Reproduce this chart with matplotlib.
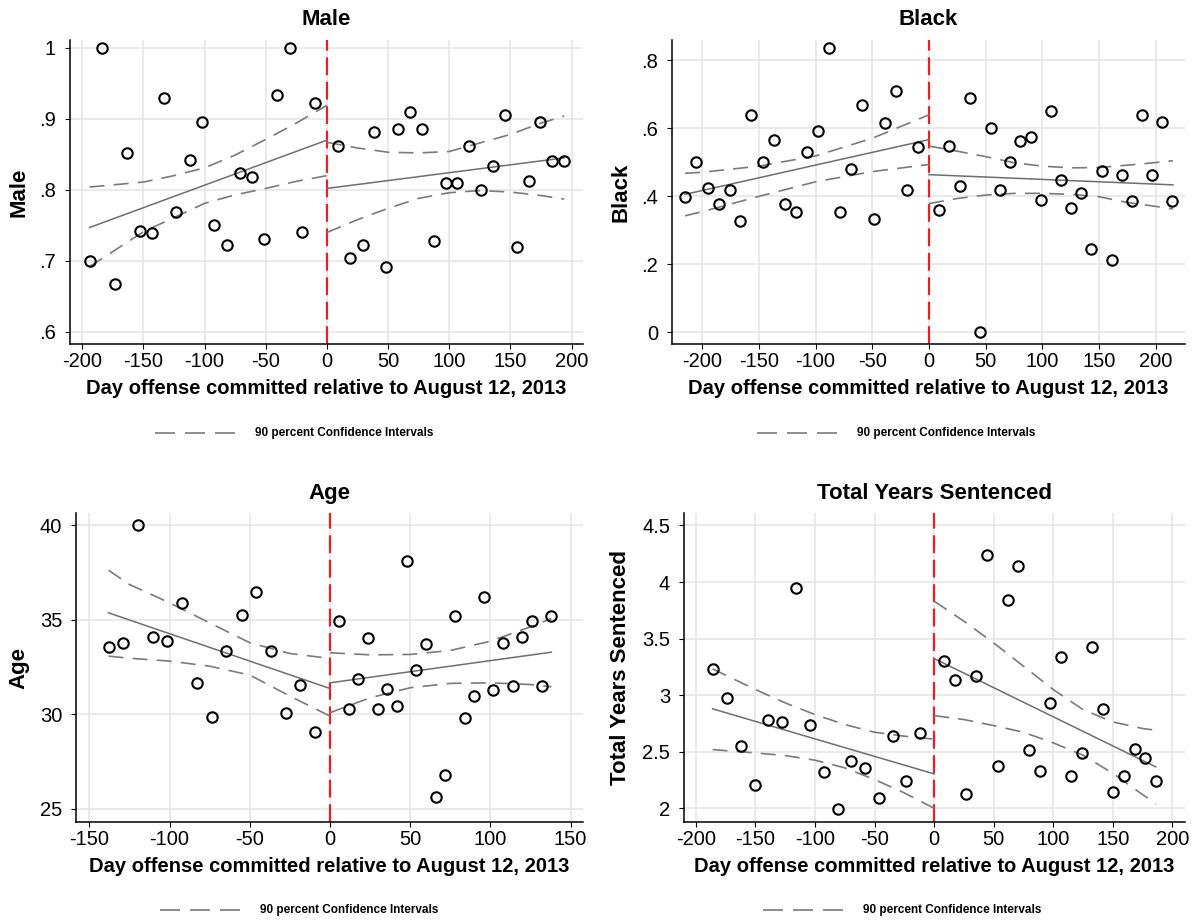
import matplotlib

matplotlib.use("Agg")
import matplotlib.pyplot as plt  # noqa: E402
from matplotlib.lines import Line2D  # noqa: E402

plt.rcParams["font.family"] = ["Liberation Sans", "DejaVu Sans"]
plt.rcParams["axes.unicode_minus"] = False

W, H = 1196, 922  # canvas in pixels (dpi 100)

XLABEL = "Day offense committed relative to August 12, 2013"
CI_LABEL = "90 percent Confidence Intervals"

# ---- Male -------------------------------------------------------------
male_x_pre = [-194, -184, -173.5, -163, -153, -143, -133, -123, -112, -102,
              -92, -82, -71, -61, -51, -41, -30, -20, -10]
male_y_pre = [0.700, 1.000, 0.667, 0.852, 0.742, 0.739, 0.929, 0.769, 0.842, 0.895,
              0.750, 0.722, 0.824, 0.818, 0.731, 0.933, 1.000, 0.741, 0.923]
male_x_post = [9.5, 19.3, 29.2, 38.9, 48.5, 58.3, 68.2, 77.9, 87.2, 97.0,
               106.7, 116.3, 126.0, 135.8, 145.5, 155.1, 164.9, 174.6, 184.0, 193.5]
male_y_post = [0.862, 0.704, 0.722, 0.882, 0.692, 0.885, 0.909, 0.885, 0.728, 0.809,
               0.809, 0.862, 0.800, 0.833, 0.906, 0.720, 0.812, 0.895, 0.841, 0.840]
male_fit_pre = ([-194, 0], [0.747, 0.870])
male_fit_post = ([0, 194], [0.802, 0.845])
male_ci_x_pre = [-194, -150, -125, -100, -75, -50, -25, 0]
male_ci_hi_pre = [0.804, 0.811, 0.820, 0.831, 0.849, 0.871, 0.894, 0.919]
male_ci_lo_pre = [0.692, 0.741, 0.761, 0.781, 0.793, 0.802, 0.812, 0.820]
male_ci_x_post = [0, 25, 50, 75, 100, 125, 150, 175, 194]
male_ci_hi_post = [0.867, 0.859, 0.853, 0.852, 0.854, 0.866, 0.878, 0.894, 0.904]
male_ci_lo_post = [0.740, 0.758, 0.774, 0.788, 0.796, 0.799, 0.797, 0.792, 0.787]

# ---- Black ------------------------------------------------------------
black_x_pre = [-215, -205, -195, -185.3, -175.6, -166.2, -156.5, -146.2, -136.5, -127.1,
               -117.4, -107.6, -97.6, -87.9, -78.2, -68.5, -58.8, -48.8, -38.8, -29.1,
               -19.4, -9.7]
black_y_pre = [0.396, 0.500, 0.425, 0.376, 0.418, 0.326, 0.637, 0.500, 0.564, 0.376,
               0.354, 0.529, 0.592, 0.835, 0.354, 0.479, 0.668, 0.334, 0.614, 0.710,
               0.418, 0.544]
black_x_post = [8.8, 17.6, 26.9, 35.7, 44.8, 54.2, 63.0, 71.7, 80.5, 89.6,
                98.7, 107.5, 116.2, 125.0, 134.1, 142.9, 152.3, 161.1, 169.8, 179.2,
                187.7, 196.8, 205.6, 214.3]
black_y_post = [0.359, 0.547, 0.430, 0.689, 0.000, 0.601, 0.418, 0.501, 0.562, 0.573,
                0.389, 0.651, 0.447, 0.364, 0.408, 0.243, 0.475, 0.212, 0.462, 0.385,
                0.638, 0.462, 0.617, 0.387]
black_fit_pre = ([-215, 0], [0.405, 0.566])
black_fit_post = ([0, 215], [0.463, 0.433])
black_ci_x_pre = [-215, -200, -150, -100, -50, 0]
black_ci_hi_pre = [0.467, 0.470, 0.488, 0.518, 0.570, 0.639]
black_ci_lo_pre = [0.342, 0.354, 0.399, 0.442, 0.472, 0.493]
black_ci_x_post = [0, 25, 50, 75, 100, 125, 150, 175, 195, 215]
black_ci_hi_post = [0.547, 0.532, 0.516, 0.498, 0.488, 0.483, 0.484, 0.491, 0.497, 0.504]
black_ci_lo_post = [0.378, 0.393, 0.403, 0.408, 0.408, 0.405, 0.398, 0.381, 0.372, 0.362]

# ---- Age --------------------------------------------------------------
age_x_pre = [-138.0, -129.1, -119.8, -110.6, -101.5, -92.1, -83.0, -73.6, -64.7, -55.1,
             -45.9, -37.0, -27.7, -18.5, -9.4]
age_y_pre = [33.56, 33.77, 40.00, 34.07, 33.89, 35.90, 31.64, 29.88, 33.36, 35.23,
             36.46, 33.36, 30.07, 31.58, 29.07]
age_x_post = [5.8, 11.8, 17.6, 23.6, 29.8, 35.8, 41.8, 47.8, 53.8, 59.8,
              66.0, 71.8, 77.8, 83.9, 89.9, 95.9, 101.9, 107.9, 113.9, 119.7,
              125.7, 131.9, 137.7]
age_y_post = [34.96, 30.30, 31.88, 34.03, 30.30, 31.32, 30.44, 38.13, 32.34, 33.71,
              25.65, 26.81, 35.19, 29.82, 30.97, 36.23, 31.27, 33.79, 31.50, 34.10,
              34.96, 31.50, 35.19]
age_fit_pre = ([-138, 0], [35.37, 31.37])
age_fit_post = ([0, 138], [31.67, 33.29])
age_ci_x_pre = [-138, -125, -100, -75, -50, -25, 0]
age_ci_hi_pre = [37.62, 36.87, 35.90, 34.84, 33.79, 33.22, 32.96]
age_ci_lo_pre = [33.08, 32.97, 32.82, 32.55, 32.08, 30.97, 29.91]
age_ci_x_post = [0, 25, 50, 75, 100, 125, 138]
age_ci_hi_post = [33.26, 33.15, 33.17, 33.38, 33.87, 34.63, 35.07]
age_ci_lo_post = [30.09, 30.88, 31.41, 31.64, 31.67, 31.58, 31.46]

# ---- Total Years Sentenced ---------------------------------------------
years_x_pre = [-185.8, -173.7, -162.3, -150.6, -139.4, -127.4, -115.9, -104.2, -92.7, -81.0,
               -69.6, -57.8, -46.6, -34.6, -23.5, -11.7]
years_y_pre = [3.233, 2.973, 2.555, 2.211, 2.779, 2.761, 3.943, 2.735, 2.325, 1.999,
               2.417, 2.358, 2.093, 2.638, 2.240, 2.667]
years_x_post = [8.4, 17.4, 26.6, 35.3, 44.3, 53.3, 61.7, 70.7, 79.4, 88.6,
                97.6, 106.3, 115.0, 124.0, 132.7, 141.7, 150.4, 159.3, 168.3, 177.3,
                186.3]
years_y_post = [3.306, 3.133, 2.128, 3.168, 4.243, 2.378, 3.842, 4.146, 2.514, 2.328,
                2.932, 3.336, 2.290, 2.487, 3.430, 2.876, 2.146, 2.287, 2.523, 2.446,
                2.240]
years_fit_pre = ([-186, 0], [2.880, 2.305])
years_fit_post = ([0, 186], [3.324, 2.367])
years_ci_x_pre = [-186, -150, -125, -100, -75, -50, -25, 0]
years_ci_hi_pre = [3.233, 3.050, 2.932, 2.829, 2.741, 2.673, 2.638, 2.612]
years_ci_lo_pre = [2.520, 2.490, 2.467, 2.426, 2.358, 2.255, 2.137, 2.001]
years_ci_x_post = [0, 25, 50, 75, 100, 125, 150, 175, 186]
years_ci_hi_post = [3.831, 3.654, 3.462, 3.256, 3.050, 2.873, 2.764, 2.706, 2.691]
years_ci_lo_post = [2.820, 2.785, 2.732, 2.673, 2.579, 2.470, 2.310, 2.122, 2.043]

FIT_GREY = "#6e6e6e"
CI_GREY = "#7a7a7a"
CI_DASH = (9, 5.5)


def draw_panel(fig, box, title, xlim, ylim, xticks, yticks, yticklabels,
               sides, ylabel_px, xlabel_px, legend_px):
    left, top, right, bottom = box
    ax = fig.add_axes([left / W, 1 - bottom / H, (right - left) / W, (bottom - top) / H])
    ax.set_xlim(*xlim)
    ax.set_ylim(*ylim)
    ax.set_xticks(xticks, [str(t) for t in xticks])
    ax.set_yticks(yticks, yticklabels)
    ax.tick_params(direction="out", length=3.5, width=0.8, labelsize=14.5, colors="black")
    ax.tick_params(axis="x", pad=2)
    ax.tick_params(axis="y", pad=6.5)
    ax.grid(True, color="#e4e4e4", lw=1.1, zorder=0)
    ax.set_axisbelow(True)
    for s in ("top", "right"):
        ax.spines[s].set_visible(False)
    for s in ("left", "bottom"):
        ax.spines[s].set_linewidth(1.1)

    ax.axvline(0, color="#ee1c24", lw=1.6, dashes=(8, 3), zorder=2)

    for xs, ys, fit, ci_x, ci_hi, ci_lo in sides:
        ax.plot(ci_x, ci_hi, color=CI_GREY, lw=1.2, dashes=CI_DASH, zorder=3)
        ax.plot(ci_x, ci_lo, color=CI_GREY, lw=1.2, dashes=CI_DASH, zorder=3)
        ax.plot(fit[0], fit[1], color=FIT_GREY, lw=1.1, zorder=3)
        ax.plot(xs, ys, "o", ms=7.5, mfc="none", mec="black", mew=1.5, zorder=4)

    h = bottom - top
    ax.text(0.5, 1 + 20 / h, title, transform=ax.transAxes, ha="center",
            va="center", fontsize=16, fontweight="bold")
    ax.set_ylabel(title, fontsize=16, fontweight="bold", va="center")
    ax.yaxis.set_label_coords((ylabel_px - left) / (right - left), 0.5)
    ax.set_xlabel(XLABEL, fontsize=14.5, fontweight="bold", va="center")
    ax.xaxis.set_label_coords(0.5, (bottom - xlabel_px) / h)

    # Stata-style legend row underneath the panel
    lx0, lx1, tx, ly = legend_px
    fig.add_artist(Line2D([lx0 / W, lx1 / W], [1 - ly / H] * 2, transform=fig.transFigure,
                          color=CI_GREY, lw=1.2, dashes=(12, 6)))
    fig.text(tx / W, 1 - ly / H, CI_LABEL, ha="left", va="center",
             fontsize=8.5, fontweight="bold")
    return ax


fig = plt.figure(figsize=(W / 100, H / 100), dpi=100)

draw_panel(fig, (70, 40, 583, 344), "Male", (-210, 209.4), (0.583, 1.011),
           list(range(-200, 201, 50)), [0.6, 0.7, 0.8, 0.9, 1.0],
           [".6", ".7", ".8", ".9", "1"],
           [(male_x_pre, male_y_pre, male_fit_pre, male_ci_x_pre, male_ci_hi_pre, male_ci_lo_pre),
            (male_x_post, male_y_post, male_fit_post, male_ci_x_post, male_ci_hi_post,
             male_ci_lo_post)],
           19, 388, (155, 235, 255, 433))

draw_panel(fig, (672, 40, 1185, 344), "Black", (-226.5, 225.6), (-0.035, 0.859),
           list(range(-200, 201, 50)), [0, 0.2, 0.4, 0.6, 0.8],
           ["0", ".2", ".4", ".6", ".8"],
           [(black_x_pre, black_y_pre, black_fit_pre, black_ci_x_pre, black_ci_hi_pre,
             black_ci_lo_pre),
            (black_x_post, black_y_post, black_fit_post, black_ci_x_post, black_ci_hi_post,
             black_ci_lo_post)],
           621, 388, (757, 837, 857, 433))

draw_panel(fig, (76, 513, 583, 822), "Age", (-158.3, 157.7), (24.31, 40.65),
           list(range(-150, 151, 50)), [25, 30, 35, 40],
           ["25", "30", "35", "40"],
           [(age_x_pre, age_y_pre, age_fit_pre, age_ci_x_pre, age_ci_hi_pre, age_ci_lo_pre),
            (age_x_post, age_y_post, age_fit_post, age_ci_x_post, age_ci_hi_post,
             age_ci_lo_post)],
           19, 866, (160, 240, 260, 910))

draw_panel(fig, (684, 513, 1185, 822), "Total Years Sentenced", (-210, 210.6), (1.88, 4.61),
           list(range(-200, 201, 50)), [2, 2.5, 3, 3.5, 4, 4.5],
           ["2", "2.5", "3", "3.5", "4", "4.5"],
           [(years_x_pre, years_y_pre, years_fit_pre, years_ci_x_pre, years_ci_hi_pre,
             years_ci_lo_pre),
            (years_x_post, years_y_post, years_fit_post, years_ci_x_post, years_ci_hi_post,
             years_ci_lo_post)],
           621, 866, (763, 843, 863, 910))

fig.savefig("out.png", dpi=100)
plt.close(fig)
